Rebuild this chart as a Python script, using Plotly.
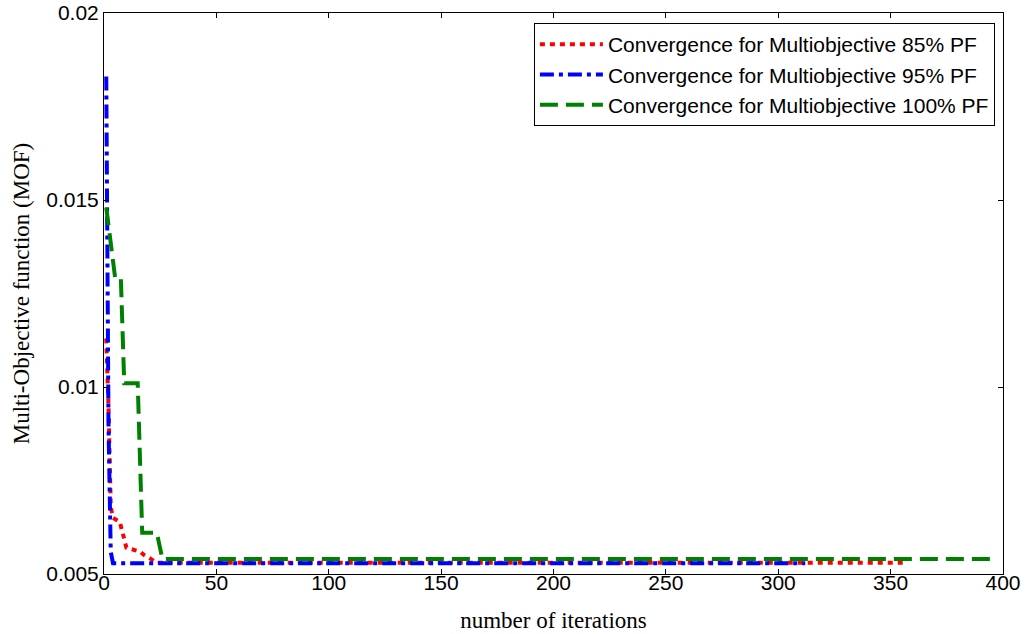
import plotly.graph_objects as go

# Convergence curves (iteration, MOF value)
it_85 = [1, 2, 3, 4, 7, 9, 10, 16, 18, 21, 23, 356]
mof_85 = [0.0113, 0.0095, 0.0068, 0.0065, 0.0064, 0.0059, 0.0057, 0.0056, 0.0055, 0.0054, 0.0053, 0.0053]

it_95 = [1, 2, 3, 4, 312]
mof_95 = [0.0183, 0.0090, 0.0056, 0.00529, 0.00529]

it_100 = [1, 5, 7.5, 9, 15, 17, 23.5, 26, 395]
mof_100 = [0.0148, 0.0129, 0.0129, 0.0101, 0.0101, 0.0061, 0.0061, 0.0054, 0.0054]

x_ticks = [0, 50, 100, 150, 200, 250, 300, 350, 400]
y_ticks = [0.005, 0.01, 0.015, 0.02]
y_tick_text = ["0.005", "0.01", "0.015", "0.02"]

names = ["Convergence for Multiobjective 85% PF",
         "Convergence for Multiobjective 95% PF",
         "Convergence for Multiobjective 100% PF"]

fig = go.Figure()
fig.add_trace(go.Scatter(x=it_85, y=mof_85, mode="lines", name=names[0],
                         line=dict(color="#ff0000", width=4, dash="5px,5px")))
fig.add_trace(go.Scatter(x=it_95, y=mof_95, mode="lines", name=names[1],
                         line=dict(color="#0000ff", width=4, dash="14px,5px,4px,5px")))
fig.add_trace(go.Scatter(x=it_100, y=mof_100, mode="lines", name=names[2],
                         line=dict(color="#008000", width=4, dash="18px,8px")))

axis_common = dict(showline=True, linecolor="black", linewidth=1, mirror="ticks",
                   ticks="inside", ticklen=5, tickcolor="black", tickwidth=1,
                   showgrid=False, zeroline=False, automargin=False,
                   tickfont=dict(family="Liberation Sans, Arial", size=21, color="black"))

fig.update_layout(
    width=1034, height=634,
    margin=dict(l=104, r=31, t=13, b=60),
    paper_bgcolor="white", plot_bgcolor="white",
    xaxis=dict(range=[0, 400], tickvals=x_ticks, ticklabelstandoff=-10,
               title=dict(text="number of iterations", standoff=18,
                          font=dict(family="Liberation Serif, Times New Roman", size=23, color="black")),
               **axis_common),
    yaxis=dict(range=[0.005, 0.02], tickvals=y_ticks, ticktext=y_tick_text,
               title=dict(text="Multi-Objective function (MOF)", standoff=10,
                          font=dict(family="Liberation Serif, Times New Roman", size=23, color="black")),
               **axis_common),
    legend=dict(x=0.991, y=0.982, xanchor="right", yanchor="top",
                bordercolor="black", borderwidth=1, bgcolor="white",
                itemwidth=63,
                font=dict(family="Liberation Sans, Arial", size=21, color="black"),
                tracegroupgap=0),
    showlegend=True,
)

fig.write_html("out.html")
